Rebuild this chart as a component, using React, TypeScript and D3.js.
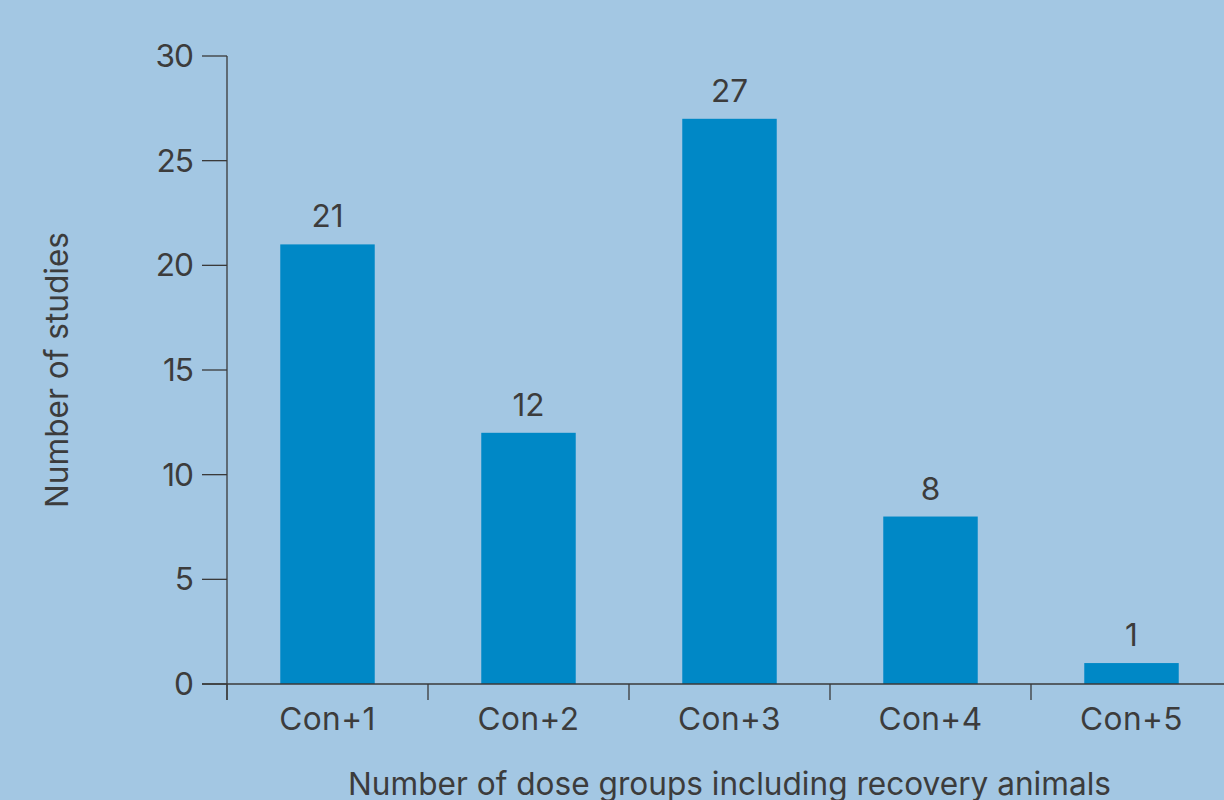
import React from "react";
import * as d3 from "d3";

const categories = ["Con+1", "Con+2", "Con+3", "Con+4", "Con+5"];
const values = [21, 12, 27, 8, 1];
const yTicks = [0, 5, 10, 15, 20, 25, 30];

export default function App() {
  const W = 1224, H = 800;
  const x0 = 227, x1 = 1232, yTop = 56, yBot = 684;
  const x = d3.scaleBand().domain(categories).range([x0, x1]).paddingInner(0.53).paddingOuter(0.265);
  const y = d3.scaleLinear().domain([0, 30]).range([yBot, yTop]);
  const step = (x1 - x0) / categories.length;
  const font = "Inter, Roboto, sans-serif";
  const fs = 31.6;
  const tc = "#3c3c3c";
  const ac = "#3a3a3a";
  return (
    <svg width={W} height={H} style={{ position: "absolute", left: 0, top: 0 }} fontFamily={font}>
      <rect width={W} height={H} fill="#a3c7e3" />
      {categories.map((c, i) => (
        <g key={c}>
          <rect x={x(c)} y={y(values[i])} width={x.bandwidth()} height={y(0) - y(values[i])} fill="#0088c6" />
          <text x={x(c)! + x.bandwidth() / 2} y={y(values[i]) - 17} textAnchor="middle" fontSize={fs} fill={tc}>{values[i]}</text>
          <text x={x(c)! + x.bandwidth() / 2} y={730} textAnchor="middle" fontSize={fs} letterSpacing={0.4} fill={tc}>{c}</text>
        </g>
      ))}
      {/* y axis */}
      <line x1={x0} x2={x0} y1={yTop} y2={yBot + 16} stroke={ac} strokeWidth={1.3} />
      {yTicks.map((t) => (
        <g key={t}>
          <line x1={x0 - 25} x2={x0} y1={y(t)} y2={y(t)} stroke={ac} strokeWidth={1.3} />
          <text x={193} y={y(t) + 11} textAnchor="end" fontSize={fs} letterSpacing={-1} fill={tc}>{t}</text>
        </g>
      ))}
      {/* x axis */}
      <line x1={x0 - 25} x2={x1} y1={yBot} y2={yBot} stroke={ac} strokeWidth={1.3} />
      {d3.range(categories.length + 1).map((i) => (
        <line key={i} x1={x0 + i * step} x2={x0 + i * step} y1={yBot} y2={yBot + 16} stroke={ac} strokeWidth={1.3} />
      ))}
      <text x={(x0 + x1) / 2} y={795} textAnchor="middle" fontSize={fs} fill={tc}>Number of dose groups including recovery animals</text>
      <text transform={`translate(68, ${(yTop + yBot) / 2}) rotate(-90)`} textAnchor="middle" fontSize={fs} fill={tc}>Number of studies</text>
    </svg>
  );
}
